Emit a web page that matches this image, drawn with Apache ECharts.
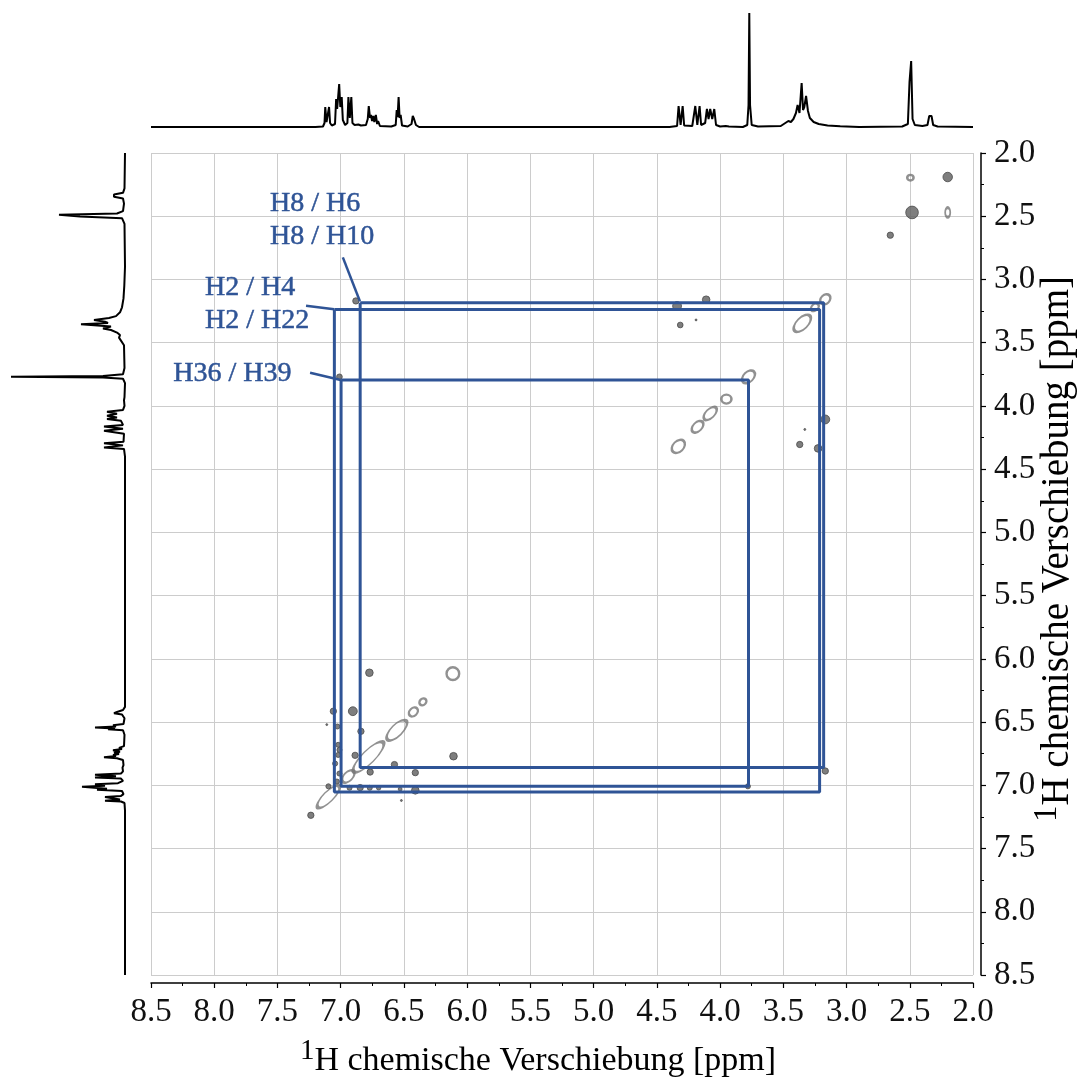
<!DOCTYPE html>
<html>
<head>
<meta charset="utf-8">
<title>COSY</title>
<script src="https://cdn.jsdelivr.net/npm/echarts@6/dist/echarts.min.js"></script>
<style>
  html, body { margin: 0; padding: 0; background: #fff; }
  #chart { width: 1079px; height: 1079px; }
</style>
</head>
<body>
<div id="chart"></div>
<script>
// ppm range of both axes
const ppmMin = 2.0;
const ppmMax = 8.5;
const tickStep = 0.5;

// 1D 1H spectrum, [ppm, intensity]
const spectrum1D = [
  [8.50, 0], [7.20, 0], [7.14, 0.5],
  [7.128, 4], [7.122, 20], [7.112, 5], [7.100, 6], [7.092, 20], [7.084, 4], [7.070, 1.5],
  [7.045, 3], [7.036, 28], [7.028, 18], [7.012, 43], [7.003, 20], [6.992, 30], [6.983, 7], [6.965, 2],
  [6.947, 4], [6.939, 30], [6.928, 9], [6.916, 30], [6.907, 4], [6.890, 2], [6.860, 2.5], [6.840, 1.5],
  [6.800, 2], [6.786, 8], [6.778, 21], [6.768, 9], [6.760, 12], [6.752, 6], [6.742, 11], [6.734, 5],
  [6.722, 12], [6.712, 3], [6.704, 6], [6.690, 1],
  [6.600, 0.5], [6.565, 2], [6.557, 17], [6.550, 10], [6.542, 30], [6.534, 9], [6.526, 12], [6.515, 1.5], [6.470, 0.5],
  [6.440, 3], [6.430, 11], [6.420, 8], [6.405, 2], [6.380, 0],
  [4.40, 0], [4.34, 1], [4.328, 21], [4.312, 2], [4.296, 21], [4.284, 1.5], [4.22, 1],
  [4.196, 21], [4.180, 2], [4.162, 21], [4.150, 2],
  [4.118, 4], [4.104, 18], [4.091, 8], [4.078, 18], [4.062, 8], [4.046, 18], [4.032, 2],
  [4.000, 0.5], [3.955, 1], [3.945, 2.7], [3.930, 0.5], [3.82, 0],
  [3.785, 2], [3.775, 22], [3.769, 114], [3.763, 22], [3.750, 2], [3.70, 0.5],
  [3.52, 1], [3.46, 6], [3.44, 5], [3.42, 8], [3.40, 14], [3.387, 22], [3.372, 14], [3.355, 44],
  [3.344, 17], [3.334, 20], [3.320, 31], [3.305, 16], [3.29, 9], [3.26, 5], [3.22, 3],
  [3.15, 1.5], [3.05, 0.7], [2.90, 0],
  [2.56, 0.5], [2.515, 3], [2.502, 45], [2.489, 66], [2.478, 8], [2.46, 2], [2.40, 1],
  [2.36, 2], [2.346, 11], [2.337, 13], [2.328, 11], [2.315, 2], [2.28, 0.5], [2.00, 0]
];

// diagonal / ring contours: [x ppm, y ppm, long extent ppm, short extent ppm, tilt deg]
const ringPeaks = [
  [2.495, 2.195, 0.05, 0.045, 0],
  [2.20, 2.47, 0.04, 0.075, 0],
  [3.168, 3.157, 0.09, 0.07, 45],
  [3.25, 3.22, 0.07, 0.05, 45],
  [3.35, 3.347, 0.17, 0.09, 45],
  [3.775, 3.77, 0.12, 0.08, 45],
  [3.95, 3.946, 0.08, 0.07, 0],
  [4.078, 4.06, 0.13, 0.07, 45],
  [4.178, 4.165, 0.11, 0.07, 45],
  [4.33, 4.32, 0.12, 0.085, 45],
  [6.113, 6.117, 0.1, 0.1, 0],
  [6.35, 6.34, 0.06, 0.05, 45],
  [6.425, 6.42, 0.08, 0.06, 45],
  [6.556, 6.565, 0.21, 0.09, 45],
  [6.78, 6.776, 0.33, 0.1, 45],
  [6.94, 6.93, 0.12, 0.07, 45],
  [7.097, 7.09, 0.24, 0.08, 45]
];

// cross peaks (dark blobs): [x ppm, y ppm, extent ppm]
const crossPeaks = [
  [2.20, 2.19, 0.075], [2.482, 2.47, 0.1], [2.654, 2.65, 0.05],
  [4.34, 3.21, 0.07], [4.11, 3.16, 0.06], [4.315, 3.36, 0.045], [4.19, 3.32, 0.015],
  [3.168, 4.107, 0.07], [3.33, 4.186, 0.015], [3.37, 4.305, 0.05], [3.225, 4.336, 0.06],
  [3.168, 6.887, 0.05], [6.88, 3.17, 0.05], [7.01, 3.77, 0.045], [3.78, 7.008, 0.04],
  [6.773, 6.11, 0.06], [7.058, 6.414, 0.05], [6.904, 6.414, 0.07], [7.11, 6.52, 0.015],
  [7.026, 6.535, 0.04], [6.84, 6.573, 0.05], [7.02, 6.68, 0.04], [7.01, 6.72, 0.04],
  [7.02, 6.76, 0.04], [6.886, 6.763, 0.05], [6.108, 6.77, 0.06], [7.044, 6.828, 0.04],
  [6.575, 6.836, 0.05], [6.767, 6.895, 0.05], [6.41, 6.90, 0.05], [7.01, 6.907, 0.04],
  [7.03, 6.97, 0.04], [7.097, 7.008, 0.04], [6.93, 7.02, 0.04], [6.846, 7.018, 0.05],
  [6.77, 7.02, 0.04], [6.70, 7.02, 0.035], [6.53, 7.03, 0.03], [6.41, 7.04, 0.06],
  [6.52, 7.12, 0.015], [7.236, 7.237, 0.05]
];

// correlation boxes: [x left, x right, y top, y bottom] in ppm
const correlationBoxes = [
  [6.846, 3.181, 3.184, 6.860],
  [7.050, 3.213, 3.237, 7.053],
  [6.997, 3.775, 3.796, 7.008]
];

// annotations
const labelTexts = ['H8 / H6\nH8 / H10', 'H2 / H4\nH2 / H22', 'H36 / H39'];
const labelAnchors = [[7.559, 2.533], [8.073, 3.192], [8.324, 3.743]];
const leaderLines = [
  [[6.983, 2.825], [6.848, 3.172]],
  [[7.274, 3.208], [7.052, 3.235]],
  [[7.242, 3.738], [7.000, 3.795]]
];

const serif = 'Liberation Serif';
const blue = '#2f5496';
const plotSize = 822;
const pxPerPpm = plotSize / (ppmMax - ppmMin);

const chart = echarts.init(document.getElementById('chart'));

const fmt = v => v.toFixed(1);

const mainAxisCommon = {
  type: 'value',
  min: ppmMin,
  max: ppmMax,
  interval: tickStep,
  inverse: true,
  offset: 8,
  axisLine: { show: true, lineStyle: { color: '#000', width: 1.5 } },
  axisTick: { show: true, inside: false, length: 5, lineStyle: { color: '#000', width: 1.2 } },
  minorTick: { show: true, splitNumber: 2, length: 3, lineStyle: { color: '#000', width: 1 } },
  splitLine: { show: true, lineStyle: { color: '#cccccc', width: 1 } },
  axisLabel: {
    color: '#111', fontFamily: serif, fontSize: 33, formatter: fmt,
    showMinLabel: true, showMaxLabel: true
  }
};

const boxSeries = correlationBoxes.map(b => ({
  type: 'line',
  xAxisIndex: 0, yAxisIndex: 0,
  data: [[b[0], b[2]], [b[1], b[2]], [b[1], b[3]], [b[0], b[3]], [b[0], b[2]]],
  showSymbol: false,
  lineStyle: { color: blue, width: 3 },
  silent: true, z: 5
}));

const leaderSeries = leaderLines.map(l => ({
  type: 'line',
  xAxisIndex: 0, yAxisIndex: 0,
  data: l,
  showSymbol: false,
  lineStyle: { color: blue, width: 2.5 },
  silent: true, z: 5
}));

function nameRich(size) {
  return {
    sup: { fontFamily: serif, fontSize: Math.round(size * 0.85), lineHeight: size * 0.75, verticalAlign: 'top', color: '#111' },
    main: { fontFamily: serif, fontSize: size, lineHeight: size * 1.4, color: '#111' }
  };
}
const axisName = '{sup|1}{main|H chemische Verschiebung [ppm]}';

chart.setOption({
  animation: false,
  backgroundColor: '#fff',
  grid: [
    { left: 151, top: 153, width: plotSize, height: plotSize },
    { left: 151, top: 7, width: plotSize, height: 120 },
    { left: 5, top: 153, width: 120, height: plotSize }
  ],
  xAxis: [
    Object.assign({ gridIndex: 0, position: 'bottom' }, mainAxisCommon,
      { axisLabel: Object.assign({}, mainAxisCommon.axisLabel, { margin: 13 }) }),
    { gridIndex: 1, type: 'value', min: ppmMin, max: ppmMax, inverse: true, show: false },
    { gridIndex: 2, type: 'value', min: 0, max: 120, inverse: true, show: false }
  ],
  yAxis: [
    Object.assign({ gridIndex: 0, position: 'right' }, mainAxisCommon,
      { axisLabel: Object.assign({}, mainAxisCommon.axisLabel, { margin: 13 }) }),
    { gridIndex: 1, type: 'value', min: 0, max: 120, show: false },
    { gridIndex: 2, type: 'value', min: ppmMin, max: ppmMax, inverse: true, show: false }
  ],
  graphic: [
    {
      type: 'text', x: 538, y: 1061,
      style: { text: axisName, rich: nameRich(34), align: 'center', verticalAlign: 'middle' }
    },
    {
      type: 'text', x: 1058, y: 549, rotation: Math.PI / 2,
      style: { text: axisName, rich: nameRich(39), align: 'center', verticalAlign: 'middle' }
    }
  ],
  series: [
    {
      type: 'line', xAxisIndex: 1, yAxisIndex: 1,
      data: spectrum1D,
      showSymbol: false, silent: true,
      lineStyle: { color: '#000', width: 2 }
    },
    {
      type: 'line', xAxisIndex: 2, yAxisIndex: 2,
      data: spectrum1D.map(p => [p[1], p[0]]),
      showSymbol: false, silent: true,
      lineStyle: { color: '#000', width: 2 }
    },
    {
      type: 'scatter', xAxisIndex: 0, yAxisIndex: 0,
      data: ringPeaks,
      symbol: 'circle',
      symbolSize: v => [v[2] * pxPerPpm, v[3] * pxPerPpm],
      symbolRotate: v => v[4],
      itemStyle: { color: 'rgba(0,0,0,0)', borderColor: '#767676', borderWidth: 2.4 },
      silent: true, z: 3
    },
    {
      type: 'scatter', xAxisIndex: 0, yAxisIndex: 0,
      data: crossPeaks,
      symbol: 'circle',
      symbolSize: v => v[2] * pxPerPpm,
      itemStyle: { color: '#5e5e5e', borderColor: '#4a4a4a', borderWidth: 1 },
      silent: true, z: 3
    },
    ...boxSeries,
    ...leaderSeries,
    {
      type: 'scatter', xAxisIndex: 0, yAxisIndex: 0,
      data: labelAnchors.map((p, i) => ({ value: p, name: labelTexts[i] })),
      symbolSize: 0,
      itemStyle: { color: blue, opacity: 1 },
      label: {
        show: true, position: 'right', distance: 0,
        formatter: p => p.name,
        color: blue, fontFamily: serif, fontSize: 28, lineHeight: 33,
        textBorderColor: blue, textBorderWidth: 0.5,
        align: 'left', verticalAlign: 'middle'
      },
      silent: true, z: 6
    }
  ]
});
</script>
</body>
</html>
